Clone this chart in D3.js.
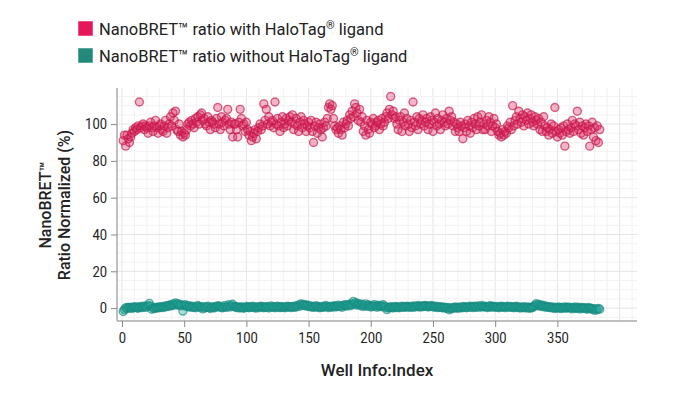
<!DOCTYPE html>
<html>
<head>
<meta charset="utf-8">
<script src="https://cdn.jsdelivr.net/npm/d3@7"></script>
<style>
  body { margin: 0; background: #fff; }
  text { font-family: Roboto, "Noto Sans", sans-serif; fill: #222; }
</style>
</head>
<body>
<svg id="chart" width="675" height="397"></svg>
<script>
// series values, one per well (index 1..384)
var withLigand = [
  91, 94, 88, 94, 92, 90, 93, 95, 97, 96,
  98, 97, 99, 112, 98, 99, 100, 97, 99, 98,
  95, 99, 101, 98, 96, 99, 102, 98, 95, 99,
  100, 97, 96, 99, 102, 95, 98, 100, 104, 99,
  106, 102, 107, 97, 96, 100, 94, 96, 93, 95,
  94, 97, 100, 101, 99, 102, 100, 98, 103, 101,
  104, 100, 105, 106, 102, 103, 100, 99, 104, 101,
  97, 102, 101, 100, 98, 103, 109, 100, 97, 104,
  101, 99, 102, 103, 108, 100, 97, 101, 93, 100,
  100, 97, 93, 101, 108, 103, 99, 100, 96, 101,
  97, 94, 96, 91, 93, 95, 97, 92, 96, 98,
  100, 97, 99, 111, 102, 108, 100, 104, 99, 101,
  102, 98, 112, 100, 103, 99, 96, 101, 104, 98,
  100, 103, 99, 102, 104, 101, 105, 97, 100, 103,
  99, 96, 101, 104, 98, 102, 100, 96, 99, 101,
  98, 102, 96, 90, 99, 101, 95, 98, 100, 97,
  93, 98, 101, 99, 103, 109, 111, 108, 110, 103,
  99, 97, 98, 95, 99, 97, 94, 101, 98, 100,
  102, 99, 105, 103, 107, 104, 111, 109, 106, 102,
  108, 101, 104, 96, 99, 94, 102, 97, 95, 101,
  100, 103, 98, 99, 101, 102, 97, 100, 103, 99,
  101, 104, 106, 103, 108, 115, 105, 107, 103, 104,
  100, 97, 102, 104, 96, 101, 106, 99, 103, 100,
  96, 102, 98, 112, 101, 99, 104, 97, 103, 100,
  102, 105, 99, 101, 103, 97, 100, 104, 102, 96,
  101, 106, 99, 103, 100, 97, 102, 105, 101, 99,
  103, 100, 107, 102, 104, 99, 101, 96, 100, 98,
  96, 101, 99, 92, 98, 100, 96, 102, 99, 95,
  101, 98, 103, 100, 97, 104, 99, 101, 105, 97,
  100, 97, 102, 99, 104, 101, 96, 99, 103, 98,
  100, 96, 94, 95, 93, 97, 94, 96, 95, 99,
  98, 101, 97, 110, 99, 102, 104, 100, 107, 103,
  101, 105, 99, 104, 102, 106, 100, 103, 105, 101,
  99, 104, 102, 100, 103, 97, 101, 96, 104, 99,
  96, 98, 94, 97, 100, 95, 99, 109, 96, 93,
  97, 95, 98, 94, 99, 88, 96, 100, 97, 95,
  98, 102, 96, 100, 99, 107, 97, 101, 95, 99,
  94, 98, 100, 96, 99, 88, 97, 101, 93, 98,
  91, 99, 90, 97
];

var withoutLigand = [
  -1.8, -0.8, 0.2, -0.3, 0.5, 0.1, 0.4, -0.2, 0.6, 0.3,
  0.8, 0.2, -0.1, 0.5, 0.9, 0.3, 0.7, 1.2, 0.4, 0.8,
  1.4, 2.6, 1.0, -0.6, 0.2, -0.3, 0.4, 0.1, 0.6, 0.2,
  0.5, 0.9, 0.3, 0.7, 1.2, 0.8, 1.5, 1.1, 1.8, 1.3,
  2.2, 1.6, 2.8, 1.9, 2.4, 1.4, 2.0, 1.2, -1.6, 1.5,
  1.8, 1.1, 0.6, 1.3, 0.8, 0.4, 1.0, 0.5, 0.2, 0.7,
  1.4, 0.9, 0.3, 0.6, -0.4, 0.8, 0.2, 0.5, 1.1, 0.3,
  -0.2, 0.4, 0.8, 0.1, 0.5, 0.9, 1.3, 0.6, 1.0, 0.3,
  0.2, 0.7, 1.5, 0.4, 0.9, 1.8, 0.6, 1.2, 2.1, 1.0,
  0.5, 0.8, 0.2, 0.6, 0.1, 0.7, 0.3, -0.1, 0.4, 0.9,
  0.5, 0.2, 0.8, 0.4, 1.1, 0.3, 0.6, 0.0, 0.5, 0.8,
  0.3, 1.0, 0.6, 0.2, 0.7, 0.4, 0.9, 0.1, 0.6, 1.2,
  0.4, 0.8, 0.2, 0.6, 1.0, 0.5, 0.3, 0.9, 0.4, 0.7,
  0.2, 0.6, 1.1, 0.5, 0.8, 0.3, 0.7, 1.0, 0.4, 0.9,
  1.5, 0.8, 1.9, 2.3, 1.4, 2.0, 1.6, 1.1, 1.7, 0.9,
  1.2, 0.6, 1.0, 0.4, 0.8, 1.3, 0.5, 0.9, 0.2, 0.7,
  0.4, 1.0, 0.6, 1.4, 0.8, 0.3, 0.7, 1.1, 0.5, 0.9,
  1.3, 0.6, 1.0, 1.6, 0.8, 1.2, 0.5, 1.4, 1.8, 1.1,
  1.5, 2.0, 1.2, 2.4, 1.7, 3.6, 2.2, 2.9, 1.6, 2.5,
  1.9, 1.3, 2.1, 0.9, 1.5, 2.3, 1.0, 1.7, 1.2, 0.6,
  1.4, 0.8, 1.9, 1.1, 0.5, 1.6, 0.9, 1.3, 0.7, 1.8,
  1.0, 0.4, -0.8, 0.2, 0.6, 0.3, 0.8, 0.1, 0.5, 0.9,
  0.3, 0.7, 0.2, 0.6, 1.0, 0.4, 0.8, 0.5, 1.1, 0.6,
  0.9, 0.4, 0.7, 1.2, 0.5, 1.0, 0.8, 1.4, 0.6, 1.1,
  0.7, 1.3, 0.9, 1.5, 1.0, 0.6, 1.2, 0.8, 1.4, 0.9,
  0.5, 1.1, 0.7, 0.3, 0.8, 0.4, 0.6, 0.1, 0.5, 0.2,
  -0.2, 0.3, -0.9, 0.1, -0.4, 0.4, 0.0, 0.6, 0.2, -0.1,
  0.5, 0.1, 0.7, 0.3, 0.9, 0.4, 0.2, 0.8, 0.5, 1.1,
  0.6, 0.3, 1.0, 0.7, 0.4, 1.2, 0.8, 0.5, 1.4, 0.9,
  0.6, 1.1, 0.7, 0.3, 0.9, 1.3, 0.5, 1.0, 0.6, 0.8,
  0.4, 0.9, 0.2, 0.6, 1.0, 0.5, 0.8, 0.3, 0.7, 1.1,
  0.5, 0.9, 0.4, 0.8, 0.2, 0.6, 1.0, 0.3, 0.7, 0.1,
  0.5, 0.2, 0.8, 0.4, 0.0, 0.6, 0.3, -0.1, 0.5, 0.2,
  0.9, 1.6, 2.4, 1.3, 2.0, 1.1, 1.7, 0.8, 1.4, 0.6,
  1.0, 0.4, 0.8, 0.3, 0.7, 0.1, 0.5, -0.2, 0.4, 0.0,
  0.6, 0.2, -0.3, 0.4, 0.1, 0.7, -0.1, 0.3, 0.5, 0.0,
  0.3, -0.4, 0.2, 0.6, -0.2, 0.1, 0.5, -0.5, 0.2, -0.1,
  0.4, -0.3, 0.1, -0.6, 0.3, -0.2, 0.0, -0.7, -0.3, -1.2,
  -0.4, -0.9, -0.2, -0.6
];

var xTicks = [0, 50, 100, 150, 200, 250, 300, 350];
var yTicks = [0, 20, 40, 60, 80, 100];

var seriesNames = ["NanoBRET\u2122 ratio with HaloTag", "NanoBRET\u2122 ratio without HaloTag"];
var seriesColors = ["#e5175a", "#23897b"];
var pointFill = ["#dc2a5e", "#22a89c"];
var pointStroke = ["#c4164c", "#16887e"];

var svg = d3.select("#chart");
var margin = {top: 88, right: 38, bottom: 76, left: 117};
var width = 675 - margin.left - margin.right,
    height = 397 - margin.top - margin.bottom;

var x = d3.scaleLinear().domain([-4, 414]).range([0, width]);
var y = d3.scaleLinear().domain([-7, 119.6]).range([height, 0]);

var g = svg.append("g")
    .attr("transform", "translate(" + margin.left + "," + margin.top + ")");

// minor grid
g.append("g").selectAll("line")
    .data(d3.range(0, 415, 10))
    .enter().append("line")
    .attr("x1", function (d) { return x(d); })
    .attr("x2", function (d) { return x(d); })
    .attr("y1", 0).attr("y2", height)
    .attr("stroke", function (d) { return d % 50 === 0 ? "#e4e4e4" : "#f2f2f2"; });

g.append("g").selectAll("line")
    .data(d3.range(-5, 119, 5))
    .enter().append("line")
    .attr("y1", function (d) { return y(d); })
    .attr("y2", function (d) { return y(d); })
    .attr("x1", 0).attr("x2", width)
    .attr("stroke", function (d) { return d % 20 === 0 ? "#e4e4e4" : "#f2f2f2"; });

// points
[withLigand, withoutLigand].forEach(function (vals, s) {
    g.append("g").selectAll("circle")
        .data(vals)
        .enter().append("circle")
        .attr("cx", function (d, i) { return x(i + 1); })
        .attr("cy", function (d) { return y(d); })
        .attr("r", 4)
        .attr("fill", pointFill[s])
        .attr("fill-opacity", 0.35)
        .attr("stroke", pointStroke[s])
        .attr("stroke-opacity", 0.65)
        .attr("stroke-width", 1.4);
});

// axes
var xAxis = g.append("g")
    .attr("transform", "translate(0," + height + ")")
    .call(d3.axisBottom(x).tickValues(xTicks).tickSize(6).tickPadding(5));
var yAxis = g.append("g")
    .call(d3.axisLeft(y).tickValues(yTicks).tickSize(6).tickPadding(4));

[xAxis, yAxis].forEach(function (a) {
    a.select(".domain").attr("stroke", "#aaa").attr("stroke-width", 1.5);
    a.selectAll(".tick line").attr("stroke", "#888");
    // tick labels in the picture are a narrow face
    a.selectAll(".tick text").attr("font-size", 15).attr("fill", "#222")
        .style("font-family", "Roboto, sans-serif")
        .attr("lengthAdjust", "spacingAndGlyphs")
        .attr("textLength", function () { return this.textContent.length * 7.3; });
});
xAxis.select(".domain").attr("d", "M0,0H" + width);
yAxis.select(".domain").attr("d", "M0,0V" + height);

// axis titles
svg.append("text")
    .attr("x", margin.left + width / 2 + 0)
    .attr("y", 376)
    .attr("text-anchor", "middle")
    .attr("font-size", 17)
    .attr("font-weight", 500)
    .text("Well Info:Index");

var yl = svg.append("text")
    .attr("transform", "translate(51,205) rotate(-90)")
    .attr("text-anchor", "middle")
    .attr("font-size", 16)
    .attr("font-weight", 500);
yl.append("tspan").attr("x", 0).attr("dy", 0).text("NanoBRET\u2122");
yl.append("tspan").attr("x", 0).attr("dy", 19).text("Ratio Normalized  (%)");

// legend
var lg = svg.append("g");
seriesNames.forEach(function (name, i) {
    var row = lg.append("g").attr("transform", "translate(78," + (21 + i * 27) + ")");
    row.append("rect")
        .attr("width", 15).attr("height", 15)
        .attr("fill", seriesColors[i])
        .attr("stroke", "#fff").attr("stroke-width", 0.5);
    var t = row.append("text")
        .attr("x", 21).attr("y", 14)
        .attr("font-size", 16.5);
    t.append("tspan").text(name);
    t.append("tspan").attr("font-size", 11).attr("dy", -6).text("\u00ae");
    t.append("tspan").attr("dy", 6).text(" ligand");
});
</script>
</body>
</html>
